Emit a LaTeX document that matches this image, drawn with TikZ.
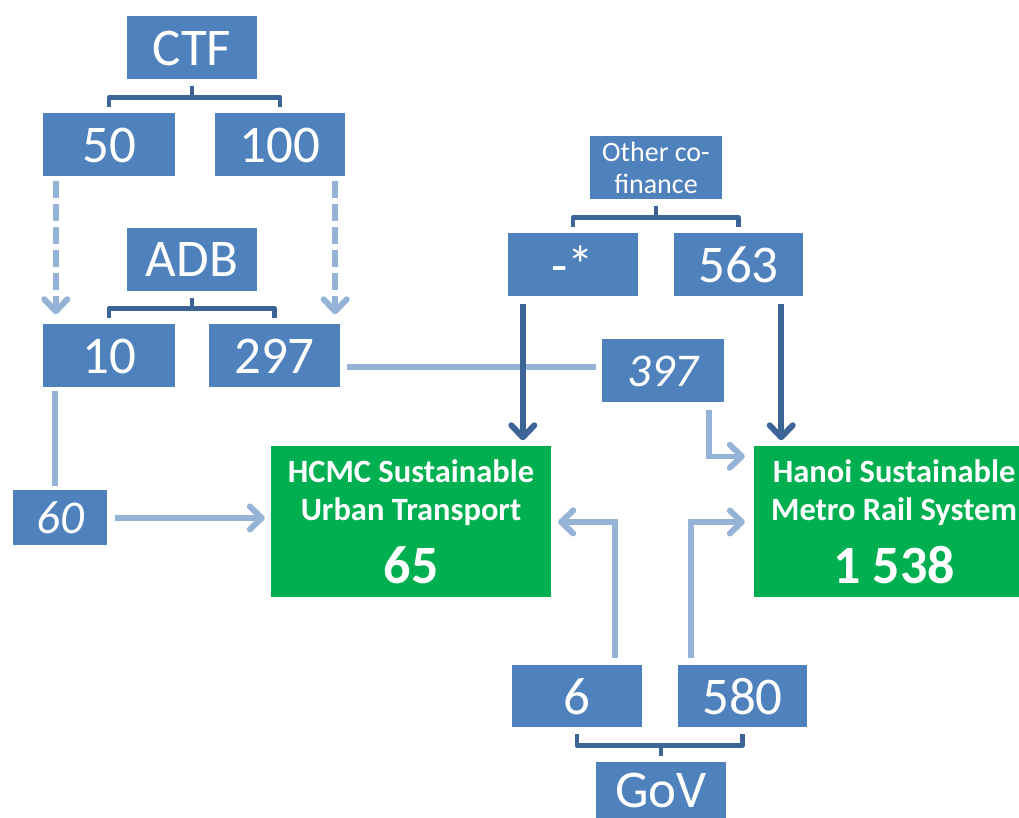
\documentclass[tikz,border=0pt]{standalone}
\usepackage{fontspec}
\setmainfont{Carlito}
\usetikzlibrary{arrows.meta}

\definecolor{boxblue}{HTML}{4F81BD}
\definecolor{goalgreen}{HTML}{00B050}
\definecolor{bracedark}{HTML}{3D6497}
\definecolor{flowlight}{HTML}{95B3D7}

\begin{document}
\begin{tikzpicture}[
  x=1pt, y=1pt,
  box/.style={fill=boxblue, text=white, inner sep=0pt, minimum width=130pt, minimum height=63pt, font=\fontsize{53}{58}\selectfont},
  smallbox/.style={box, align=center, font=\fontsize{28}{32}\selectfont},
  sharebox/.style={box, minimum width=122pt, font=\fontsize{47}{50}\selectfont\itshape},
  project/.style={fill=goalgreen, text=white, inner sep=0pt, minimum width=280pt, minimum height=151pt, align=center, font=\fontsize{32.5}{38}\selectfont\bfseries},
  brace/.style={draw=bracedark, line width=4.5pt, line join=round},
  tip/.style={-{Straight Barb[length=12pt, width=23pt, line width=6pt, round]}},
  link/.style={draw=flowlight, line width=5.5pt},
  linkarrow/.style={link, tip},
  dasharrow/.style={linkarrow, dash pattern=on 17pt off 6pt},
  mainarrow/.style={draw=bracedark, line width=5.5pt, tip},
]
\useasboundingbox (0,0) rectangle (1019,818);
\clip (0,0) rectangle (1019,818);

% ===== CTF and ADB (left column) =====
\node[box] (ctf) at (192,770) {CTF};
\node[box, minimum width=132pt] (v50) at (109,673) {50};
\node[box] (v100) at (280,673) {100};
\node[box] (adb) at (192,558) {ADB};
\node[box, minimum width=132pt] (v10) at (109,462) {10};
\node[box, minimum width=131pt] (v297) at (274.5,462) {297};

\draw[brace] ([yshift=-6pt]ctf.south) -- ++(0,-12);
\draw[brace] ([yshift=6pt]v50.north) -- ++(0,10) -| ([yshift=6pt]v100.north);
\draw[brace] ([yshift=-6pt]adb.south) -- ++(0,-12);
\draw[brace] ([yshift=6pt]v10.north) -- ++(0,10) -| ([yshift=6pt]v297.north);

% ===== Other co-finance =====
\node[smallbox, minimum width=132pt] (cof) at (656,650) {Other co-\\finance};
\node[box] (star) at (573,553) {-*};
\node[box, minimum width=129pt] (v563) at (738.5,553) {563};

\draw[brace] ([yshift=-6pt]cof.south) -- ++(0,-12);
\draw[brace] ([yshift=6pt]star.north) -- ++(0,10) -| ([yshift=6pt]v563.north);

% ===== shares and projects =====
\node[sharebox] (v397) at (663,447) {397};
\node[sharebox, minimum width=94pt, minimum height=55pt] (v60) at (60,300) {60};

\node[project] (hcmc) at (411,296) {HCMC Sustainable\\Urban Transport\\[20pt]{\fontsize{54}{58}\selectfont 65}};
\node[project] (hanoi) at (894,296) {Hanoi Sustainable\\Metro Rail System\\[20pt]{\fontsize{54}{58}\selectfont 1 538}};

% ===== GoV (bottom) =====
\node[box, minimum height=62pt] (v6) at (577,121.5) {6};
\node[box, minimum width=129pt, minimum height=62pt] (v580) at (742.5,121.5) {580};
\node[box, minimum height=56pt] (gov) at (661,28) {GoV};

\draw[brace] ([yshift=-6pt]v6.south) -- ++(0,-12) -| ([yshift=-6pt]v580.south);
\draw[brace] ([yshift=6pt]gov.north) -- ++(0,10);

% ===== flows =====
\draw[dasharrow, shorten <=4pt, shorten >=10pt] ([xshift=13pt]v50.south west) -- ([xshift=13pt]v50.south west |- v10.north);
\draw[dasharrow, shorten <=4pt, shorten >=10pt] ([xshift=-10pt]v100.south east) -- ([xshift=-10pt]v100.south east |- v297.north);

\draw[link, shorten <=3pt, shorten >=4pt] ([xshift=12pt]v10.south west) -- ([xshift=12pt]v10.south west |- v60.north);
\draw[linkarrow, shorten <=8pt, shorten >=6pt] (v60.east) -- (v60.east -| hcmc.west);
\draw[link, shorten <=7pt, shorten >=6pt] ([yshift=4pt]v397.west -| v297.east) -- ([yshift=4pt]v397.west);
\draw[linkarrow, shorten <=7pt, shorten >=9pt] ([xshift=-15pt]v397.south east) |- ([yshift=-10pt]hanoi.north west);
\draw[linkarrow, shorten <=7pt, shorten >=7pt] ([xshift=-27pt]v6.north east) |- (hcmc.east);
\draw[linkarrow, shorten <=7pt, shorten >=9pt] ([xshift=13pt]v580.north west) |- (hanoi.west);

\draw[mainarrow, shorten <=7pt, shorten >=6pt] ([xshift=15pt]star.south west) -- ([xshift=15pt]star.south west |- hcmc.north);
\draw[mainarrow, shorten <=7pt, shorten >=6pt] ([xshift=-22pt]v563.south east) -- ([xshift=-22pt]v563.south east |- hanoi.north);

\end{tikzpicture}
\end{document}
